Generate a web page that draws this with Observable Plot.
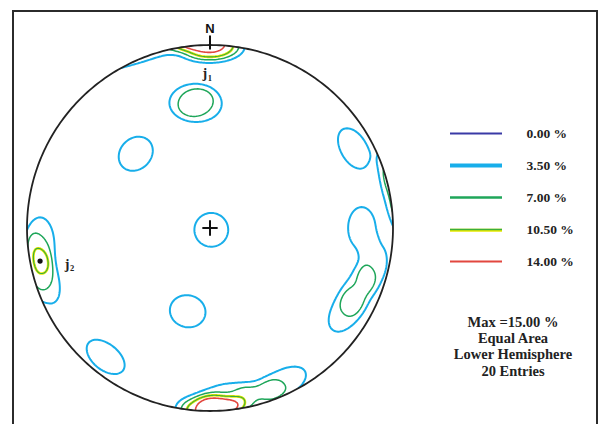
<!DOCTYPE html>
<html>
<head>
<meta charset="utf-8">
<script src="https://cdn.jsdelivr.net/npm/d3@7"></script>
<script src="https://cdn.jsdelivr.net/npm/@observablehq/plot@0.6"></script>
<style>
  body { margin: 0; background: #fff; }
  #stage { position: relative; width: 598px; height: 424px; overflow: hidden; background: #fff; }
  #frame { position: absolute; left: 12px; top: 10px; width: 586px; height: 440px; border: 2px solid #2b2b2b; box-sizing: border-box; }
  #stage svg { position: absolute; left: 0; top: 0; }
  #stats { position: absolute; left: 428px; width: 170px; top: 314px; text-align: center;
           font: bold 14.5px "Liberation Serif", serif; line-height: 16.2px; color: #222; }
</style>
</head>
<body>
<div id="stage"><div id="frame"></div></div>
<script>
// Poles to joint planes (lower hemisphere), degrees — 20 entries
const poleTrend  = [358, 1, 181,   252, 259, 266,   154, 164, 174,   315,   351, 356,   145,   195,   219,   61,   90,   103, 113, 122];
const polePlunge = [0.5, 1, 1.5,   6, 4, 8,         7, 5, 8,         42,    30, 33,      89,    51,    10,    11,   18,   9, 13, 14];
const poleSet    = ["j1", "j1", "j1", "j2", "j2", "j2"];

// Contour levels (percent of entries per counting area)
const contourLevels = [3.5, 7, 10.5, 14];
const legendLabels  = ["0.00 %", "3.50 %", "7.00 %", "10.50 %", "14.00 %"];
const legendColors  = ["#3a3aa6", "#18aeea", "#1fa65a", "#3aae3a", "#e2473f"];
const legendWidths  = [2, 4, 2.5, 1.6, 2.2];
const statsLines    = ["Max =15.00 %", "Equal Area", "Lower Hemisphere", `${poleTrend.length} Entries`];

const rad = Math.PI / 180;
const sigma = 9.7, power = 4;   // counting kernel: exp(-(θ/σ)^p)

const poleVec = poleTrend.map((t, i) => {
  const p = polePlunge[i] * rad, tr = t * rad;
  return [Math.cos(p) * Math.sin(tr), Math.cos(p) * Math.cos(tr), Math.sin(p)];
});

// equal-area (Schmidt) projection of a line, unit primitive circle
function project(trend, plunge) {
  const phi = (90 - plunge) * rad;
  const r = Math.SQRT2 * Math.sin(phi / 2);
  return [r * Math.sin(trend * rad), r * Math.cos(trend * rad)];
}

// density (%) at a point of the net; beyond the primitive the upper
// hemisphere continues, which the axial kernel folds back antipodally
function density(x, y) {
  const r = Math.hypot(x, y);
  const phi = 2 * Math.asin(Math.min(1, r / Math.SQRT2));
  const s = Math.sin(phi);
  const v = r > 0 ? [s * x / r, s * y / r, Math.cos(phi)] : [0, 0, 1];
  let sum = 0;
  for (const u of poleVec) {
    const d = Math.min(1, Math.abs(v[0] * u[0] + v[1] * u[1] + v[2] * u[2]));
    sum += Math.exp(-Math.pow(Math.acos(d) / rad / sigma, power));
  }
  return 100 * sum / poleVec.length;
}

const E = 1.03, G = 260;
const grid = new Float64Array(G * G);
for (let j = 0; j < G; ++j) {
  const y = E - (j + 0.5) * (2 * E) / G;
  for (let i = 0; i < G; ++i) {
    const x = -E + (i + 0.5) * (2 * E) / G;
    grid[j * G + i] = density(x, y);
  }
}

const rim = d3.range(0, 361, 1).map((a) => ({x: Math.sin(a * rad), y: Math.cos(a * rad)}));

// mean pole of each named set, for the marker and label
const sets = d3.groups(poleSet.map((set, i) => ({set, u: poleVec[i]})), (d) => d.set)
  .map(([name, rows]) => {
    const m = [0, 1, 2].map((k) => d3.sum(rows, (d) => d.u[k]));
    const len = Math.hypot(...m);
    const plunge = Math.asin(m[2] / len) / rad;
    const trend = (Math.atan2(m[0], m[1]) / rad + 360) % 360;
    const [x, y] = project(trend, plunge);
    return {name, x, y, letter: name[0], sub: name.slice(1)};
  });
const j1 = sets.filter((d) => d.name === "j1");
const j2 = sets.filter((d) => d.name === "j2");

const contour = (t, stroke, strokeWidth) =>
  Plot.contour(grid, {width: G, height: G, x1: -E, x2: E, y1: E, y2: -E,
    value: Plot.identity, thresholds: [t], stroke, strokeWidth});

const font = {fontFamily: "Liberation Serif, serif", fontWeight: "bold", fill: "#222"};
const setLabel = (data, dx, dy) => [
  Plot.text(data, {x: "x", y: "y", text: "letter", dx, dy, fontSize: 14, ...font}),
  Plot.text(data, {x: "x", y: "y", text: "sub", dx: dx + 5, dy: dy + 4, fontSize: 8.5, ...font})
];

const chart = Plot.plot({
  width: 598, height: 424,
  marginLeft: 26.5, marginRight: 205.5, marginTop: 44.5, marginBottom: 13.5,
  x: {domain: [-1, 1], axis: null},
  y: {domain: [-1, 1], axis: null},
  style: {background: "transparent", overflow: "visible"},
  marks: [
    contour(contourLevels[0], "#18aeea", 2),
    contour(contourLevels[1], "#1fa65a", 1.5),
    contour(contourLevels[2], "#e8e800", 2.6),
    contour(contourLevels[2], "#3aae3a", 1.1),
    contour(contourLevels[3], "#e2473f", 1.6),
    Plot.line(rim, {x: "x", y: "y", stroke: "#222", strokeWidth: 1.8}),
    Plot.dot([{x: 0, y: 0}], {x: "x", y: "y", symbol: "plus", r: 5, stroke: "#111", strokeWidth: 2}),
    Plot.ruleX([0], {y1: 1, y2: 1, insetTop: -9, insetBottom: -5, stroke: "#111", strokeWidth: 2}),
    Plot.text(["N"], {x: 0, y: 1, dy: -16, text: (d) => d, fontSize: 13, fontWeight: "bold",
      fontFamily: "Liberation Sans, Arial, sans-serif", fill: "#111"}),
    Plot.dot(j2, {x: "x", y: "y", r: 2.6, fill: "#111"}),
    ...setLabel(j1, 1, 24),
    ...setLabel(j2, 27, 3)
  ]
});

// clip the contours to the primitive circle
{
  const sx = chart.scale("x"), sy = chart.scale("y");
  const cx = sx.apply(0), cy = sy.apply(0), r = sx.apply(1) - cx;
  const root = d3.select(chart);
  root.insert("defs", ":first-child").append("clipPath").attr("id", "net-clip")
    .append("circle").attr("cx", cx).attr("cy", cy).attr("r", r);
  root.selectAll('g[aria-label="contour"]').attr("clip-path", "url(#net-clip)");
}

const legendRows = legendLabels.map((label, i) => ({label, color: legendColors[i], width: legendWidths[i]}));

const legend = Plot.plot({
  width: 598, height: 424,
  marginLeft: 450, marginRight: 96, marginTop: 132.7, marginBottom: 162.3,
  x: {domain: [0, 1], axis: null},
  y: {type: "point", domain: legendLabels, padding: 0, axis: null},
  style: {background: "transparent"},
  marks: [
    Plot.ruleY(legendRows.filter((d) => d.label === "10.50 %"), {y: "label", x1: 0, x2: 1, stroke: "#e8e800", strokeWidth: 3, dy: 0.8}),
    Plot.ruleY(legendRows, {y: "label", x1: 0, x2: 1, stroke: (d) => d.color, strokeWidth: (d) => d.width}),
    Plot.text(legendRows, {x: 1, y: "label", text: "label", dx: 24, textAnchor: "start", fontSize: 13.5, ...font})
  ]
});

const stage = document.getElementById("stage");
stage.appendChild(chart);
stage.appendChild(legend);
const stats = document.createElement("div");
stats.id = "stats";
stats.innerHTML = statsLines.map((s) => `<div>${s}</div>`).join("");
stage.appendChild(stats);
</script>
</body>
</html>
